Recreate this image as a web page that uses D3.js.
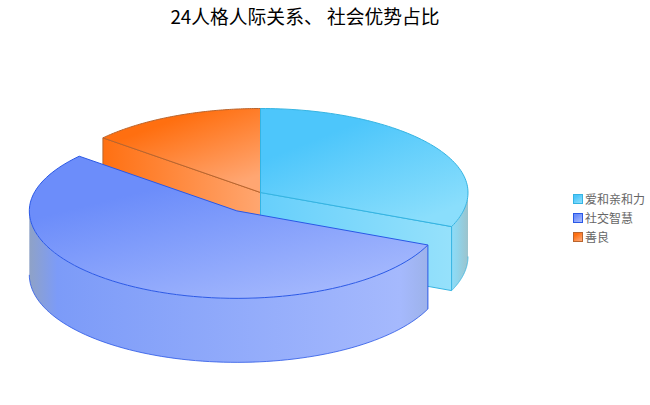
<!DOCTYPE html>
<html>
<head>
<meta charset="utf-8">
<script src="https://cdn.jsdelivr.net/npm/d3@7"></script>
<style>
html, body { margin: 0; padding: 0; background: #fff; }
text { font-family: "Noto Sans CJK SC", "Liberation Sans", sans-serif; }
</style>
</head>
<body>
<svg width="650" height="405"></svg>
<script>
var title = "24人格人际关系、 社会优势占比";
var categories = ["爱和亲和力", "社交智慧", "善良"];
var values = [32, 56, 14];
var exploded = [false, true, false];

var topColors = [["#4dc6fb", "#8adefc"], ["#6c8dfa", "#a4b8fd"], ["#ff6f10", "#ffa672"]];
var wallColors = [["#66cffb", "#96e1fb"], ["#7b9bfb", "#a6b9fb"], ["#ff7012", "#ffa670"]];
var strokes = ["#35b4e2", "#2a58e6", "#b9652e"];

const cx = 260.5, cy = 192.5, rx = 207.5, depth = 64;
const ryBack = 84, ryFront = 87.5; // the chart has some perspective, front half is taller
const explodeR = 45, explodeTilt = 0.48;

var svg = d3.select("svg");
var defs = svg.append("defs");

function gradient(id, stops, x2, y2) {
    var g = defs.append("linearGradient").attr("id", id)
        .attr("x1", 0).attr("y1", 0).attr("x2", x2).attr("y2", y2);
    stops.forEach(function(s) {
        g.append("stop").attr("offset", s[0]).attr("stop-color", s[1]);
    });
}

categories.forEach(function(c, i) {
    gradient("top" + i, [[0.3, topColors[i][0]], [1, topColors[i][1]]], 0.7, 1);
    gradient("wall" + i, [[0, wallColors[i][0]], [1, wallColors[i][1]]], 1, 0);
});
gradient("outer0", [[0, "#8edcf8"], [0.35, "#8fd5ec"], [1, "#9cc3cc"]], 1, 0);
gradient("outer1", [[0, "#8fa2c6"], [0.07, "#7c9bf8"], [0.93, "#a5b9fd"], [1, "#9db2ea"]], 1, 0);

var arcs = d3.pie().sort(null).value(function(d) { return d; })(values);
var line = d3.line();

// centre of a slice, pushed out along its middle angle when exploded
function centre(d, i) {
    if (!exploded[i]) return [cx, cy];
    var mid = (d.startAngle + d.endAngle) / 2;
    return [cx + explodeR * Math.sin(mid), cy - explodeR * explodeTilt * Math.cos(mid)];
}

function rim(c, a0, a1, dy) {
    return d3.range(0, 81).map(function(k) {
        var a = a0 + (a1 - a0) * k / 80;
        var cos = Math.cos(a);
        return [c[0] + rx * Math.sin(a), c[1] - (cos < 0 ? ryFront : ryBack) * cos + dy];
    });
}

function drawTop(d, i) {
    var c = centre(d, i);
    svg.append("path")
        .attr("d", line([c].concat(rim(c, d.startAngle, d.endAngle, 0))) + "Z")
        .attr("fill", "url(#top" + i + ")")
        .attr("stroke", strokes[i]).attr("stroke-width", 1).attr("stroke-linejoin", "round");
}

// flat cut face, from the centre out to the slice end
function drawCut(d, i, a) {
    var c = centre(d, i), p = rim(c, a, a, 0)[0];
    svg.append("path")
        .attr("d", line([c, p, [p[0], p[1] + depth], [c[0], c[1] + depth]]) + "Z")
        .attr("fill", "url(#wall" + i + ")")
        .attr("stroke", strokes[i]).attr("stroke-width", 1).attr("stroke-linejoin", "round");
}

// curved outer wall, only the bottom rim gets a line
function drawOuter(d, i, a0, a1, fill) {
    var c = centre(d, i);
    var upper = rim(c, a0, a1, 0), lower = rim(c, a0, a1, depth).reverse();
    svg.append("path")
        .attr("d", line(upper.concat(lower)) + "Z")
        .attr("fill", fill);
    svg.append("path")
        .attr("d", line(lower))
        .attr("fill", "none")
        .attr("stroke", strokes[i]).attr("stroke-width", 1).attr("stroke-opacity", 0.8);
}

// back to front: orange, light blue, then the exploded blue slice
drawCut(arcs[2], 2, arcs[2].startAngle);
drawTop(arcs[2], 2);

drawOuter(arcs[0], 0, Math.PI / 2, arcs[0].endAngle, "url(#outer0)");
drawCut(arcs[0], 0, arcs[0].endAngle);
drawTop(arcs[0], 0);

drawOuter(arcs[1], 1, arcs[1].startAngle, Math.PI * 1.5, "url(#outer1)");
var blueEdge = rim(centre(arcs[1], 1), arcs[1].startAngle, arcs[1].startAngle, 0)[0];
svg.append("path")
    .attr("d", line([blueEdge, [blueEdge[0], blueEdge[1] + depth]]))
    .attr("stroke", strokes[1]).attr("stroke-width", 1);
drawTop(arcs[1], 1);

svg.append("text")
    .attr("x", 305).attr("y", 24)
    .attr("text-anchor", "middle")
    .attr("font-size", 18.8)
    .attr("fill", "#000")
    .text(title);

var legend = svg.selectAll("g.legend")
    .data(categories)
    .enter().append("g")
    .attr("class", "legend")
    .attr("transform", function(d, i) { return "translate(573.5," + (194.5 + i * 19) + ")"; });

legend.append("rect")
    .attr("width", 9).attr("height", 9)
    .attr("fill", function(d, i) { return "url(#top" + i + ")"; })
    .attr("stroke", function(d, i) { return strokes[i]; });

legend.append("text")
    .attr("x", 11.5).attr("y", 9.5)
    .attr("font-size", 12)
    .attr("fill", "#666")
    .text(function(d) { return d; });
</script>
</body>
</html>
